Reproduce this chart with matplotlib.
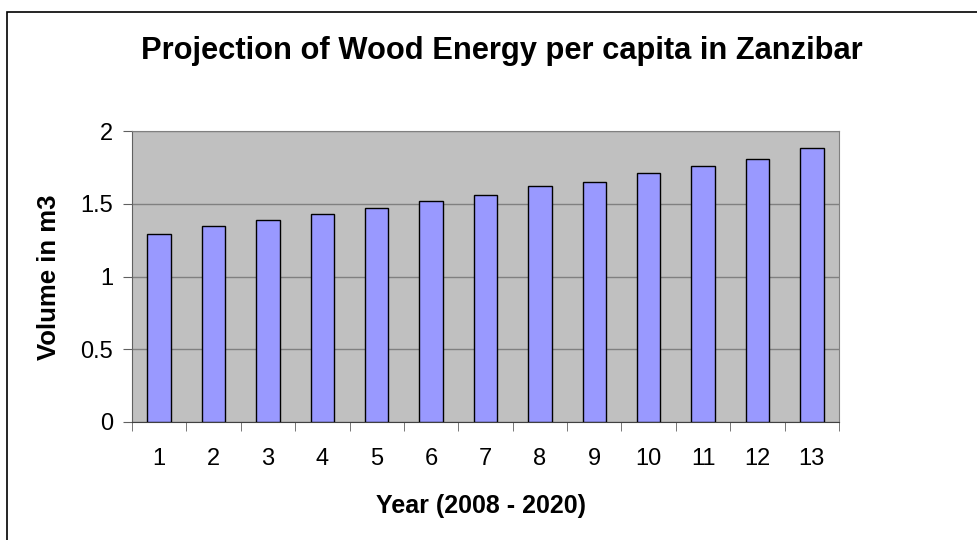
import matplotlib.pyplot as plt
from matplotlib.patches import Rectangle

# datos
years = [str(i) for i in range(1, 14)]
volume = [1.29, 1.35, 1.39, 1.43, 1.47, 1.52, 1.56, 1.62, 1.65, 1.71, 1.76, 1.81, 1.88]
yticks = [0, 0.5, 1, 1.5, 2]
ytick_labels = ["0", "0.5", "1", "1.5", "2"]

plt.rcParams['font.family'] = ['Liberation Sans', 'DejaVu Sans']

fig = plt.figure(figsize=(9.77, 5.4), dpi=100)
ax = fig.add_axes([132 / 977, 1 - 422 / 540, (839 - 132) / 977, (422 - 131) / 540])

# marco de la figura (solo arriba e izquierda visibles)
fig.patches.append(Rectangle((7 / 977, -0.1), 1.2, 1 - 12 / 540 + 0.1,
                             transform=fig.transFigure, fill=False,
                             edgecolor='black', linewidth=1.2))

pos = list(range(len(years)))
ax.set_facecolor('#C0C0C0')
ax.bar(pos, volume, width=0.43, color='#9999FF', edgecolor='black', linewidth=1.0, zorder=3)

ax.set_ylim(0, 2)
ax.set_xlim(-0.5, len(years) - 0.5)
ax.set_yticks(yticks)
ax.set_yticklabels(ytick_labels)
ax.yaxis.grid(True, color='#808080', linewidth=1.0, zorder=0)
ax.set_axisbelow(True)

ax.set_xticks(pos)
ax.set_xticklabels(years)
ax.set_xticks([p + 0.5 for p in pos[:-1]] + [-0.5, len(years) - 0.5], minor=True)
ax.tick_params(axis='x', which='major', length=0, pad=19, labelsize=17)
ax.tick_params(axis='x', which='minor', length=6.5, color='#606060', direction='out')
ax.tick_params(axis='y', length=6.5, color='#606060', pad=7, labelsize=17)

for s in ['top', 'right', 'left']:
    ax.spines[s].set_color('#808080')
ax.spines['left'].set_color('#606060')
ax.spines['bottom'].set_color('#404040')

fig.text(502 / 977, 1 - 51 / 540, "Projection of Wood Energy per capita in Zanzibar",
         ha='center', va='center', fontsize=22.2, fontweight='bold')
fig.text(481 / 977, 1 - 506 / 540, "Year (2008 - 2020)", ha='center', va='center',
         fontsize=18, fontweight='bold')
fig.text(49 / 977, 1 - 277 / 540, "Volume in m3", ha='center', va='center',
         rotation=90, fontsize=18.5, fontweight='bold')

fig.savefig("out.png", dpi=100)
